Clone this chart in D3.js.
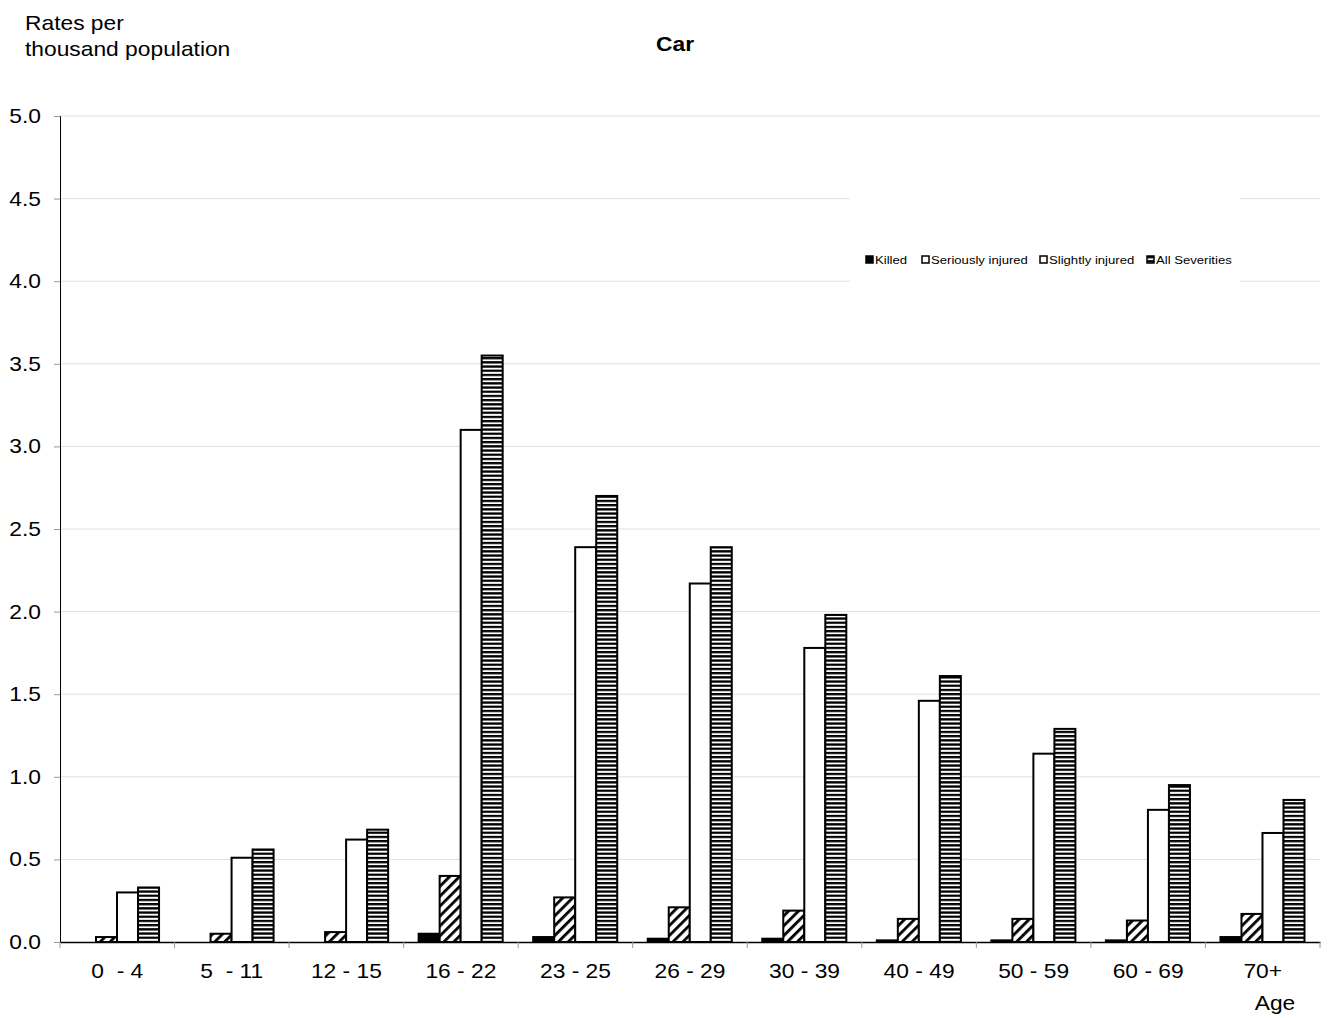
<!DOCTYPE html>
<html><head><meta charset="utf-8">
<script src="https://cdn.jsdelivr.net/npm/d3@7"></script>
<style>body{margin:0;background:#fff}svg{font-family:"Liberation Sans",Arial,sans-serif}</style>
</head><body>
<svg id="c" width="1331" height="1018"></svg>
<script>
const categories = ["0  - 4","5  - 11","12 - 15","16 - 22","23 - 25","26 - 29","30 - 39","40 - 49","50 - 59","60 - 69","70+"];
const seriesNames = ["Killed","Seriously injured","Slightly injured","All Severities"];
const killed = [0,0,0,0.05,0.03,0.02,0.02,0.01,0.01,0.01,0.03];
const serious = [0.03,0.05,0.06,0.40,0.27,0.21,0.19,0.14,0.14,0.13,0.17];
const slight = [0.30,0.51,0.62,3.10,2.39,2.17,1.78,1.46,1.14,0.80,0.66];
const allSev = [0.33,0.56,0.68,3.55,2.70,2.39,1.98,1.61,1.29,0.95,0.86];
const yTicks = [0,0.5,1,1.5,2,2.5,3,3.5,4,4.5,5];

const SX = 1.14; // horizontal text stretch seen in reference
const FS = 20;
const svg = d3.select("#c");
const L=60, R=1320, T=116, B=942;
const defs = svg.append("defs");
const diag = defs.append("pattern").attr("id","diag").attr("patternUnits","userSpaceOnUse")
  .attr("width",7).attr("height",7).attr("patternTransform","rotate(45)");
diag.append("rect").attr("width",7).attr("height",7).attr("fill","#fff");
diag.append("rect").attr("width",2.8).attr("height",7).attr("fill","#000");
const hor = defs.append("pattern").attr("id","hor").attr("patternUnits","userSpaceOnUse")
  .attr("width",8).attr("height",4.2);
hor.append("rect").attr("width",8).attr("height",4.2).attr("fill","#fff");
hor.append("rect").attr("width",8).attr("height",2.3).attr("fill","#000");
const fills = ["#000","url(#diag)","#fff","url(#hor)"];
const data = [killed, serious, slight, allSev];

const x = d3.scaleBand().domain(categories).range([L,R]).paddingInner(0).paddingOuter(0);
const x1 = d3.scaleBand().domain(d3.range(4)).range([15, x.bandwidth()-15.5]);
const y = d3.scaleLinear().domain([0,5]).range([B,T]);

function txt(sel, tx, ty, s, opts={}) {
  const g = sel.append("g").attr("transform",`translate(${tx},${ty}) scale(${SX},1)`);
  const t = g.append("text").attr("font-size",opts.size||FS).attr("fill","#000")
    .attr("text-anchor",opts.anchor||"start").text(s);
  if (opts.bold) t.attr("font-weight","bold");
  return t;
}

// gridlines
svg.append("g").selectAll("line").data(yTicks.slice(1)).join("line")
  .attr("x1",L).attr("x2",R).attr("y1",d=>y(d)).attr("y2",d=>y(d))
  .attr("stroke","#e0e0e0").attr("stroke-width",1);

// y axis
const ya = svg.append("g").attr("transform",`translate(${L},0)`)
  .call(d3.axisLeft(y).tickValues(yTicks).tickFormat(d3.format(".1f")).tickSize(6).tickPadding(0));
ya.select(".domain").attr("stroke","#000");
ya.selectAll(".tick line").attr("stroke","#999");
ya.selectAll(".tick text").attr("x",-19/SX).attr("transform",`scale(${SX},1)`)
  .attr("font-size",FS).attr("fill","#000").attr("font-family","Liberation Sans, Arial, sans-serif");

// bars
const groups = svg.append("g").selectAll("g").data(categories).join("g")
  .attr("transform",d=>`translate(${x(d)},0)`);
groups.selectAll("rect").data((c,i)=>data.map((s,j)=>({j,v:s[i]}))).join("rect")
  .attr("x",d=>x1(d.j)).attr("width",x1.bandwidth())
  .attr("y",d=>y(d.v)).attr("height",d=>B-y(d.v))
  .attr("fill",d=>fills[d.j]).attr("stroke","#000").attr("stroke-width",d=>d.v>0?2:0);

// x axis
const xa = svg.append("g").attr("transform",`translate(0,${B})`)
  .call(d3.axisBottom(x).tickSize(0).tickPadding(0));
xa.select(".domain").attr("stroke","#000").attr("stroke-width",1.5);
xa.selectAll(".tick text").attr("y",36).attr("dy",null).attr("transform",`scale(${SX},1)`)
  .style("white-space","pre").attr("xml:space","preserve")
  .attr("font-size",FS).attr("fill","#000").attr("font-family","Liberation Sans, Arial, sans-serif");
svg.append("g").selectAll("line").data(d3.range(categories.length+1)).join("line")
  .attr("x1",i=>L+i*x.bandwidth()).attr("x2",i=>L+i*x.bandwidth())
  .attr("y1",B).attr("y2",B+6).attr("stroke","#999");

// legend
const lg = svg.append("g");
lg.append("rect").attr("x",850).attr("y",190).attr("width",390).attr("height",93).attr("fill","#fff");
const lx = [866,922,1040,1147];
seriesNames.forEach((n,i)=>{
  const g = lg.append("g").attr("transform",`translate(${lx[i]},256)`);
  g.append("rect").attr("width",7).attr("height",7)
    .attr("fill", i===0?"#000": i===3?"url(#hor)":"#fff").attr("stroke","#000").attr("stroke-width",1.5);
  txt(g, 9, 7.5, n, {size:11.5});
});

// titles
txt(svg, 675, 51, "Car", {anchor:"middle", bold:true});
txt(svg, 25, 29.5, "Rates per");
txt(svg, 25, 56, "thousand population");
txt(svg, 1275, 1010, "Age", {anchor:"middle"});
</script>
</body></html>
